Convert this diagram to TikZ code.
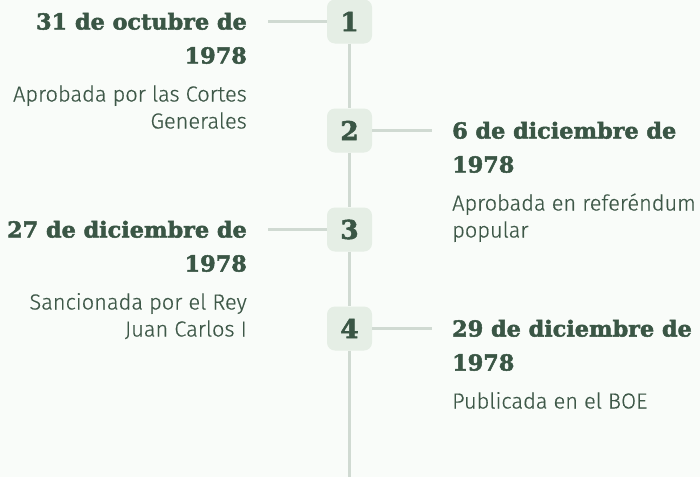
\documentclass[tikz,border=0pt]{standalone}
\usepackage{fontspec}
\newfontfamily\titlefont{DejaVu Serif}[FakeStretch=1.015, BoldFeatures={FakeBold=2.2}]
\newfontfamily\bodyfont{Fira Sans Light}[FakeBold=0.5]
\definecolor{bgc}{HTML}{F9FCF9}
\definecolor{titlec}{HTML}{3A5645}
\definecolor{bodyc}{HTML}{3E5848}
\definecolor{boxc}{HTML}{E5EEE5}
\definecolor{linec}{HTML}{D0DAD2}
\tikzset{
  numbox/.style={fill=boxc, rounded corners=8pt, minimum width=45pt, minimum height=44pt, inner sep=0pt,
    text=titlec, font=\titlefont\bfseries\fontsize{26}{26}\selectfont},
  conn/.style={draw=linec, line width=2.8pt},
  ttl/.style={inner sep=0pt, text=titlec, font=\titlefont\bfseries\fontsize{22}{24}\selectfont},
  bdy/.style={inner sep=0pt, text=bodyc, font=\bodyfont\fontsize{21.8}{24}\selectfont},
}
\begin{document}
\begin{tikzpicture}[x=1pt,y=-1pt]
\fill[bgc] (0,0) rectangle (700,477);
\useasboundingbox (0,0) rectangle (700,477);
% boxes
\node[numbox] (b1) at (349.5,21.5) {1};
\node[numbox] (b2) at (349.5,130.5) {2};
\node[numbox] (b3) at (349.5,229.5) {3};
\node[numbox] (b4) at (349.5,328.5) {4};
\coordinate (bottom) at (349.5,477);
\coordinate (c1) at (268,21.5);
\coordinate (c2) at (432,130.5);
\coordinate (c3) at (268,229.5);
\coordinate (c4) at (432,328.5);
\draw[conn] (b1.south) -- (b2.north);
\draw[conn] (b2.south) -- (b3.north);
\draw[conn] (b3.south) -- (b4.north);
\draw[conn] (b4.south) -- (bottom);
\draw[conn] (b1.west) -- (c1);
\draw[conn] (b2.east) -- (c2);
\draw[conn] (b3.west) -- (c3);
\draw[conn] (b4.east) -- (c4);
% item 1
\node[ttl, anchor=base east] (t1a) at (247,29.5) {31 de octubre de};
\node[ttl, anchor=base east] (t1b) at (247,63.5) {1978};
\node[bdy, anchor=base east] (d1a) at (247,101.5) {Aprobada por las Cortes};
\node[bdy, anchor=base east] (d1b) at (247,128.5) {Generales};
% item 2
\node[ttl, anchor=base west] (t2a) at (452,138.5) {6 de diciembre de};
\node[ttl, anchor=base west] (t2b) at (452,172.5) {1978};
\node[bdy, anchor=base west] (d2a) at (452,210.5) {Aprobada en referéndum};
\node[bdy, anchor=base west] (d2b) at (452,237.5) {popular};
% item 3
\node[ttl, anchor=base east] (t3a) at (247,237.5) {27 de diciembre de};
\node[ttl, anchor=base east] (t3b) at (247,271.5) {1978};
\node[bdy, anchor=base east] (d3a) at (247,309.5) {Sancionada por el Rey};
\node[bdy, anchor=base east] (d3b) at (247,336.5) {Juan Carlos I};
% item 4
\node[ttl, anchor=base west] (t4a) at (452,336.5) {29 de diciembre de};
\node[ttl, anchor=base west] (t4b) at (452,370.5) {1978};
\node[bdy, anchor=base west] (d4a) at (452,408.5) {Publicada en el BOE};
\end{tikzpicture}
\end{document}
